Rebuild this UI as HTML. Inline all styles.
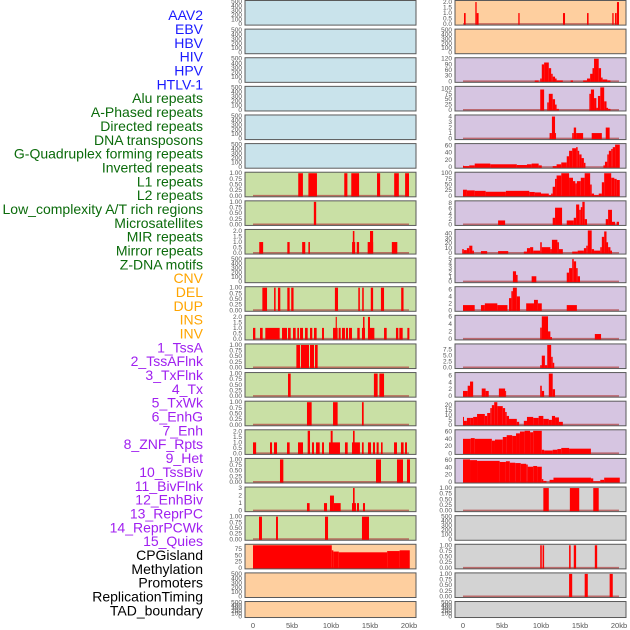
<!DOCTYPE html>
<html><head><meta charset="utf-8"><style>
html,body{margin:0;padding:0;background:#fff;}
svg{display:block;font-family:"Liberation Sans",sans-serif;}
</style></head><body>
<svg id="chart" width="630" height="630" viewBox="0 0 630 630" xmlns="http://www.w3.org/2000/svg"></svg>
<script>
// ---- data ----
const trackLabels = ["AAV2","EBV","HBV","HIV","HPV","HTLV-1","Alu repeats","A-Phased repeats","Directed repeats","DNA transposons","G-Quadruplex forming repeats","Inverted repeats","L1 repeats","L2 repeats","Low_complexity A/T rich regions","Microsatellites","MIR repeats","Mirror repeats","Z-DNA motifs","CNV","DEL","DUP","INS","INV","1_TssA","2_TssAFlnk","3_TxFlnk","4_Tx","5_TxWk","6_EnhG","7_Enh","8_ZNF_Rpts","9_Het","10_TssBiv","11_BivFlnk","12_EnhBiv","13_ReprPC","14_ReprPCWk","15_Quies","CPGisland","Methylation","Promoters","ReplicationTiming","TAD_boundary"];
const labelGroups = [6,13,5,15,5];
const xTicks = [0,5,10,15,20];
const xTickLabels = ["0","5kb","10kb","15kb","20kb"];

const L7 = [[5.8,6.4,1],[7.1,8.2,1],[11.7,12.1,1],[12.6,13.6,1],[15.9,16.3,1],[18.1,18.7,1],[19.5,20,1]];
const L8 = [[7.8,8.1,1]];
const L9 = [[0.8,1.3,1],[4.4,4.7,1],[6.3,6.7,1],[7.1,7.3,1],[12.7,13.1,1],[12.8,13.0,2],[13.3,13.6,1],[14.7,15.4,1],[15.0,15.4,2],[17.8,18.5,1]];
const L11 = [[1.2,1.8,1],[2.7,2.9,1],[3.2,3.5,1],[4.4,4.7,1],[4.9,5.2,1],[10.5,10.9,1],[13.5,13.7,1],[14.0,14.2,1],[15.1,15.4,1],[16.4,16.8,1],[19.0,19.3,1]];
const L12 = [[0,0.3,1],[0.9,1.24,1],[1.58,3.42,1],[3.72,4.36,1],[4.49,4.83,1],[5.13,5.47,1],[5.68,5.9,1],[6.03,6.41,1],[6.67,7.01,1],[7.31,7.6,1],[7.82,8.16,1],[8.85,9.1,1],[10.26,10.85,1],[10.6,10.75,2],[10.98,11.24,1],[11.41,11.79,1],[11.92,12.18,1],[12.31,12.69,1],[13.37,13.68,1],[13.97,14.36,1],[14.1,14.3,2],[14.74,15.56,1],[14.74,15.0,2],[16.8,17.14,1],[18.33,18.63,1],[18.76,19.19,1],[19.79,20.05,1]];
const L13 = [[5.56,6.03,1],[6.15,7.18,1],[7.31,7.82,1],[7.95,8.29,1]];
const L14 = [[4.49,4.83,1],[15.5,15.98,1],[16.2,16.8,1]];
const L15 = [[6.92,7.52,1],[10.26,10.85,1],[13.97,14.19,1]];
const L16 = [[0,0.4,1],[2.18,2.44,1],[2.69,3.08,1],[4.36,4.7,1],[5.77,6.41,1],[7.01,7.31,2.2],[7.56,7.82,1],[8.08,8.55,1],[8.85,9.1,1],[9.74,11.15,1],[9.96,10.21,2.2],[11.79,12.14,1],[12.69,13.71,1],[12.82,13.03,2.2],[13.97,14.19,1],[14.74,15.13,1],[15.38,15.64,1],[15.85,16.11,1],[16.41,16.62,1],[18.08,18.46,1],[18.97,19.31,1],[19.49,19.74,1]];
const L17 = [[3.46,3.89,1],[15.77,16.41,1],[18.46,19.23,1],[19.74,20.13,1]];
const L18 = [[6.92,7.26,1],[9.1,9.49,1],[9.87,10.38,2],[10.38,11.24,1],[12.69,13.2,1],[12.82,13.03,3],[13.33,13.59,1],[14.1,14.36,1]];
const L19 = [[0.77,1.15,1],[2.95,3.2,1],[9.23,9.62,1],[13.97,14.87,1]];
const L20 = [[0,10.1,90],[10.1,10.3,70],[10.3,11.0,65],[11.0,17.2,62],[17.2,18.8,67],[18.8,20.1,70]];

const R1 = [[0.13,0.34,1],[1.58,1.75,2],[1.75,2.0,1],[7.09,7.26,1],[12.82,13.08,1],[15.9,16.1,1],[19.14,19.31,1],[19.49,19.7,1],[19.74,20.0,2]];
const R3 = [[9.2,9.7,5],[9.9,10.1,15],[10.1,10.4,90],[10.4,11.0,100],[11.0,11.3,70],[11.3,11.5,40],[11.5,11.8,25],[11.8,12.0,15],[12.0,12.8,5],[13.8,14.1,5],[15.4,15.9,5],[15.9,16.3,15],[16.3,16.6,40],[16.6,16.8,70],[16.8,17.4,120],[17.4,17.7,70],[17.7,17.9,20],[17.9,18.5,10],[18.5,18.9,5]];
const R4 = [[9.9,10.4,95],[10.8,11.0,35],[11.0,11.5,75],[11.5,11.8,50],[11.8,12.0,25],[12.0,12.3,5],[16.2,16.4,75],[16.4,16.8,95],[16.8,17.1,55],[17.1,17.3,10],[17.3,17.6,65],[17.6,18.1,105],[18.1,18.4,40],[18.4,18.6,10],[18.6,18.9,5]];
const R5 = [[11.1,11.4,1],[11.4,11.8,4],[11.8,11.9,1],[14.0,14.2,1],[14.2,14.5,2],[14.5,15.4,1],[16.5,17.8,1],[18.3,18.8,2]];
const R6 = [[0,0.1,4],[0.1,0.8,3],[0.8,1.5,5],[1.5,3.5,10],[3.5,6.9,8],[6.9,8.2,6],[8.2,8.8,8],[8.8,9.7,10],[9.7,10.1,5],[11.5,12.0,3],[12.0,12.6,8],[12.6,13.3,13],[13.3,13.6,30],[13.6,14.0,45],[14.0,14.5,52],[14.5,14.7,55],[14.7,14.9,45],[14.9,15.2,35],[15.2,15.5,25],[15.5,15.7,12],[18.0,18.2,5],[18.2,18.5,15],[18.5,18.7,35],[18.7,19.0,45],[19.0,19.2,50],[19.2,19.5,55],[19.5,20.1,62]];
const R7 = [[0,0.5,27],[0.5,1.5,24],[1.5,2.9,22],[2.9,5.5,18],[5.5,8.5,22],[8.5,9.2,17],[9.2,10.0,15],[10.0,11.0,10],[11.0,11.3,3],[11.3,11.5,10],[11.5,11.8,40],[11.8,12.0,75],[12.0,12.6,90],[12.6,13.6,100],[13.6,14.1,80],[14.1,14.4,65],[14.4,14.6,55],[14.6,15.1,65],[15.1,15.6,80],[15.6,16.3,100],[16.3,16.5,50],[16.5,16.8,10],[16.8,17.4,3],[17.4,17.8,10],[17.8,18.1,60],[18.1,19.0,100],[19.0,19.4,80],[19.4,19.7,75],[19.7,20.1,70]];
const R8 = [[4.5,5.4,1.5],[11.5,11.8,2.5],[11.8,12.7,6.3],[13.3,14.2,1.5],[14.2,14.5,2.5],[14.5,14.9,7.5],[14.9,15.1,5.5],[15.1,15.3,6.5],[15.3,15.6,8.5],[15.6,15.9,2],[18.3,18.6,2],[18.6,19.1,5.5],[19.1,19.5,1],[19.7,20.0,1]];
const R9 = [[-0.1,0.1,8],[0.1,0.5,6],[0.5,0.8,10],[0.8,1.2,15],[1.2,1.4,5],[2.3,3.1,4],[4.5,5.8,4],[7.8,8.2,3],[8.2,8.6,10],[8.6,9.0,12],[9.0,9.9,5],[9.9,10.1,22],[10.1,11.2,12],[11.2,11.4,8],[11.4,12.1,27],[12.1,12.3,22],[12.3,12.8,8],[14.0,14.7,3],[14.7,15.5,5],[15.5,15.8,10],[15.8,16.0,15],[16.0,16.5,46],[16.5,16.8,8],[16.8,17.6,5],[17.6,17.8,12],[17.8,18.1,33],[18.1,18.4,44],[18.4,18.6,22],[18.6,18.9,12],[18.9,19.1,5]];
const R10 = [[6.4,6.8,2.3],[6.8,7.0,1.5],[8.8,9.4,1.2],[13.3,13.6,2],[13.6,14.0,3],[14.0,14.2,5],[14.2,14.5,4.5],[14.5,14.7,3],[14.7,15.0,1.2]];
const R11 = [[0,1.5,1.5],[2.3,2.8,1.5],[2.8,4.4,2],[4.4,5.7,1.5],[5.9,6.2,3.5],[6.2,6.4,5.5],[6.4,6.9,6.5],[6.9,7.3,4],[8.1,9.1,2],[9.1,9.6,3],[9.6,10.1,2],[13.3,14.6,1.5]];
const R12 = [[9.9,10.1,3],[10.1,10.9,6],[10.9,11.2,2],[11.2,11.4,0.5],[16.9,17.7,1.3]];
const R13 = [[9.9,10.1,1],[10.1,10.5,5],[10.5,10.8,1],[10.8,11.3,9.5],[11.3,11.5,4.5],[11.5,11.7,2]];
const R14 = [[0,0.6,1.5],[0.6,0.9,3],[0.9,1.3,4.2],[2.4,2.9,2.2],[2.9,3.3,1.5],[4.6,5.4,2.2],[5.4,5.5,1.5],[9.9,10.1,3],[10.1,10.4,1.5],[11.0,11.5,6.5],[11.5,11.8,2]];
const R15 = [[0,0.1,8],[0.1,0.5,4],[0.5,1.0,7],[1.0,1.3,7],[1.3,1.8,8],[1.8,2.8,11],[2.8,3.1,9],[3.1,3.5,12],[3.5,3.7,17],[3.7,4.0,20],[4.0,4.4,23],[4.4,5.1,19],[5.1,5.4,17],[5.4,5.6,13],[5.6,5.9,9],[5.9,6.9,6],[6.9,7.2,3],[7.8,8.2,4],[8.2,9.0,8],[9.0,9.7,7],[9.7,10.3,9],[10.3,11.0,6],[11.0,11.4,5],[11.4,11.8,9],[11.8,12.3,7.5],[12.3,12.8,3]];
const R16 = [[0,1.0,40],[1.0,1.5,42],[1.5,3.7,40],[3.7,4.1,35],[4.1,5.1,38],[5.1,5.6,45],[5.6,6.3,50],[6.3,6.8,48],[6.8,7.3,55],[7.3,7.9,60],[7.9,8.6,62],[8.6,9.0,58],[9.0,10.1,62],[10.1,10.4,10],[10.4,11.5,8],[11.5,12.1,10],[12.1,12.6,12],[12.6,13.6,15],[13.6,16.4,13]];
const R17 = [[0,0.9,62],[0.9,1.8,60],[1.8,4.7,58],[4.7,5.5,55],[5.5,6.0,57],[6.0,6.7,53],[6.7,7.4,52],[7.4,8.1,50],[8.1,8.3,48],[8.3,9.0,42],[9.0,9.5,44],[9.5,10.1,42],[10.1,10.3,8],[10.3,10.7,3],[11.1,11.6,6],[11.6,16.4,12],[16.4,16.7,10],[16.7,17.6,2],[17.6,18.1,6],[18.1,20.1,12]];
const R18 = [[10.3,11.0,1],[13.7,14.9,1],[16.7,17.4,1]];
const R20 = [[9.9,10.1,1],[10.2,10.4,1],[13.6,13.8,1],[14.2,14.5,1],[16.9,17.2,1]];
const R21 = [[13.6,14.0,1],[15.6,16.0,1],[18.8,19.2,1]];

const tk500 = [[0,100,200,300,400,500],["0","100","200","300","400","500"]];
const tk1 = [[0,0.25,0.5,0.75,1],["0.00","0.25","0.50","0.75","1.00"]];
const tk2 = [[0,0.5,1,1.5,2],["0.0","0.5","1.0","1.5","2.0"]];

// ---- layout ----
const C = {blue:"#c9e3eb",green:"#c9e0a5",orange:"#fecf9f",purple:"#d6c5e1",gray:"#d3d3d3"};
const leftPanels = [
 ["aav2","blue",null,500,tk500],["ebv","blue",null,500,tk500],["hbv","blue",null,500,tk500],
 ["hiv","blue",null,500,tk500],["hpv","blue",null,500,tk500],["htlv-1","blue",null,500,tk500],
 ["alu","green",L7,1,tk1],["a-phased","green",L8,1,tk1],["directed","green",L9,2.05,tk2],
 ["dna-transposons","green",null,500,tk500],["microsatellites","green",L11,1,tk1],["mir","green",L12,2.05,tk2],
 ["tssa","green",L13,1,tk1],["txflnk","green",L14,1,tk1],["tx","green",L15,1,tk1],
 ["enh","green",L16,2.05,tk2],["znf","green",L17,1,tk1],["het","green",L18,3,[[0,1,2,3],["0","1","2","3"]]],
 ["reprpc","green",L19,1,tk1],["cpgisland","orange",L20,90,[[0,25,50,75],["0","25","50","75"]]],
 ["methylation","orange",null,500,tk500],["promoters","orange",null,500,tk500]
];
const rightPanels = [
 ["r-sv","orange",R1,2.05,tk2],["r-empty","orange",null,500,tk500],
 ["r3","purple",R3,120,[[0,30,60,90,120],["0","30","60","90","120"]]],
 ["r4","purple",R4,105,[[0,25,50,75,100],["0","25","50","75","100"]]],
 ["r5","purple",R5,4.1,[[0,1,2,3,4],["0","1","2","3","4"]]],
 ["r6","purple",R6,62,[[0,20,40,60],["0","20","40","60"]]],
 ["r7","purple",R7,100,[[0,25,50,75,100],["0","25","50","75","100"]]],
 ["r8","purple",R8,8.5,[[0,2,4,6,8],["0","2","4","6","8"]]],
 ["r9","purple",R9,46,[[0,10,20,30,40],["0","10","20","30","40"]]],
 ["r10","purple",R10,5,[[0,1,2,3,4,5],["0","1","2","3","4","5"]]],
 ["r11","purple",R11,6.5,[[0,2,4,6],["0","2","4","6"]]],
 ["r12","purple",R12,6,[[0,2,4,6],["0","2","4","6"]]],
 ["r13","purple",R13,9.5,[[0,2.5,5,7.5],["0.0","2.5","5.0","7.5"]]],
 ["r14","purple",R14,6.5,[[0,2,4,6],["0","2","4","6"]]],
 ["r15","purple",R15,23,[[0,5,10,15,20],["0","5","10","15","20"]]],
 ["r16","purple",R16,62,[[0,20,40,60],["0","20","40","60"]]],
 ["r17","purple",R17,62,[[0,20,40,60],["0","20","40","60"]]],
 ["r18","gray",R18,1,tk1],["r19","gray",null,500,tk500],
 ["r20","gray",R20,1,tk1],["r21","gray",R21,1,tk1],["r22","gray",null,500,tk500]
];

const NS="http://www.w3.org/2000/svg";
const svg=document.getElementById("chart");
function mk(tag,attrs,parent){const e=document.createElementNS(NS,tag);for(const k in attrs)e.setAttribute(k,attrs[k]);(parent||svg).appendChild(e);return e;}

// labels
const groupColors=["#1a1aff","#0b6b0b","#ffa500","#a020f0","#000000"];
let gi=0,cnt=0;
trackLabels.forEach((t,i)=>{
  while(cnt>=labelGroups[gi]){cnt-=labelGroups[gi];gi++;}
  cnt++;
  const el=mk("text",{x:203,y:16.5+i*13.84,"text-anchor":"end","dominant-baseline":"middle","font-size":"14",fill:groupColors[gi]});
  el.textContent=t;
  
  
});

function drawColumn(panels,x0,x1,zeroX,colName){
  const kbX=kb=>zeroX+kb*7.8;
  panels.forEach((p,i)=>{
    const top=0.5+i*28.62, h=(i===21)?16:24.6, bottom=top+h;
    const g=mk("g",{});
    
    
    const yv=v=>bottom-1-(Math.min(v,p[3])/p[3])*(h-2);
    mk("rect",{x:x0,y:top,width:x1-x0,height:h,fill:C[p[1]]},g);
    if(p[2]){
      mk("line",{x1:kbX(0),x2:kbX(20),y1:bottom-1.2,y2:bottom-1.2,stroke:"#b04040","stroke-width":1.6,"stroke-opacity":0.7},g);
      p[2].forEach(s=>{
        const r=mk("rect",{x:kbX(Math.max(s[0],-0.1)),width:Math.max(kbX(s[1])-kbX(s[0]),1),y:yv(s[2]),height:bottom-yv(s[2]),fill:"#ff0000"},g);
        
        
      });
    }
    mk("rect",{x:x0,y:top,width:x1-x0,height:h,fill:"none",stroke:"#5a5a5a","stroke-width":1},g);
    p[4][0].forEach((v,k)=>{
      const t=mk("text",{x:x0-3,y:(p[2]?yv(v):bottom-1-(v/p[3])*(h-2))+2,"text-anchor":"end","font-size":"6.5",fill:"#555"},g);
      t.textContent=p[4][1][k];
      
      
    });
  });
  xTicks.forEach((v,k)=>{
    const t=mk("text",{x:kbX(v),y:628,"text-anchor":"middle","font-size":"7.5",fill:"#555"});
    t.textContent=xTickLabels[k];
    
    
  });
}
drawColumn(leftPanels,245,416,253,'left');
drawColumn(rightPanels,455,626,463,'right');
</script>
</body></html>
